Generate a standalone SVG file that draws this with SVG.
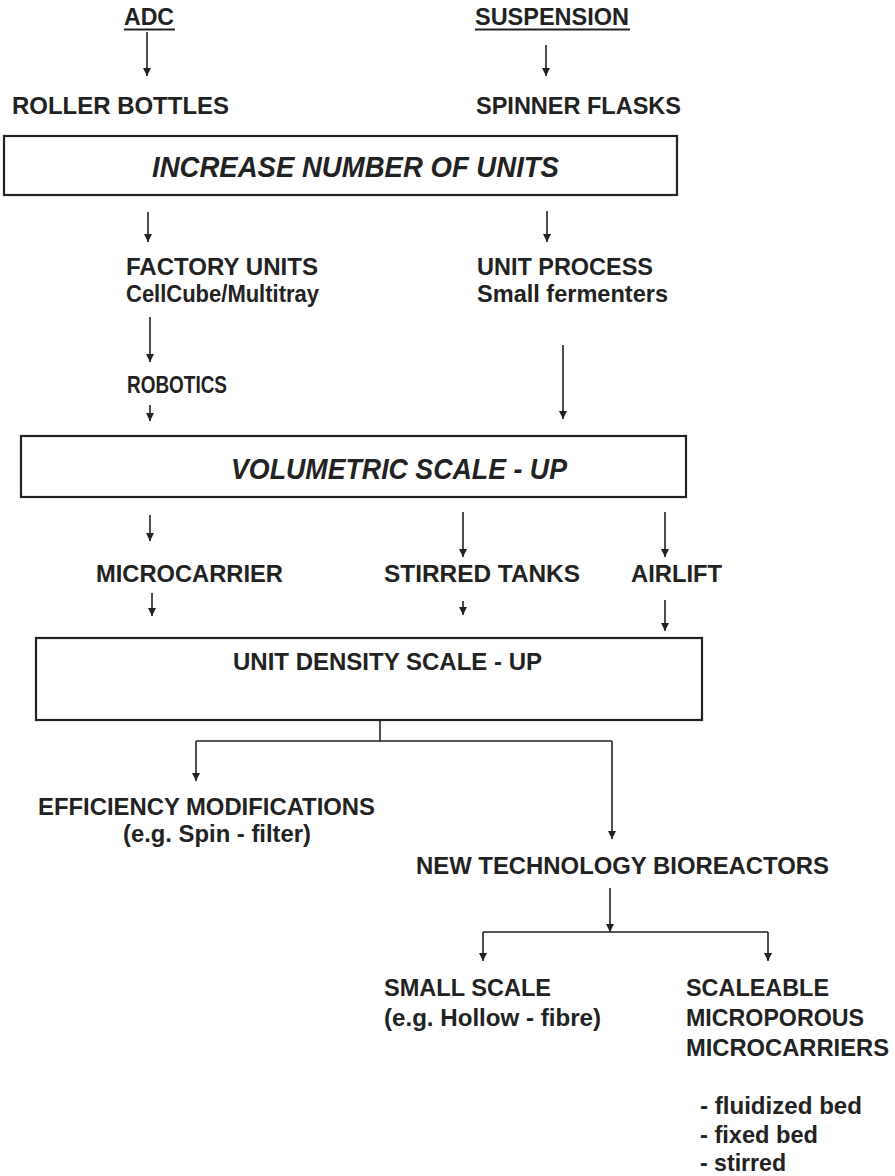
<svg xmlns="http://www.w3.org/2000/svg" width="895" height="1176" viewBox="0 0 895 1176">
<defs>
<marker id="ah" viewBox="0 0 10 10" refX="10" refY="5" markerWidth="8" markerHeight="8" markerUnits="userSpaceOnUse" orient="auto">
<path d="M0,0 L10,5 L0,10 z" fill="#222"/>
</marker>
<style>
.t{font-family:"Liberation Sans",Arial,sans-serif;font-weight:bold;font-size:24px;fill:#222}
.n{font-family:"Liberation Sans",Arial,sans-serif;font-weight:bold;font-size:24.5px;fill:#222}
.i{font-family:"Liberation Sans",Arial,sans-serif;font-weight:bold;font-style:italic;fill:#222}
.box{fill:#fff;stroke:#222;stroke-width:2.2}
.c{fill:none;stroke:#222;stroke-width:1.6}
.a{fill:none;stroke:#222;stroke-width:1.6;marker-end:url(#ah)}
</style>
</defs>
<rect width="895" height="1176" fill="#fff"/>
<g id="connectors">
<line class="a" x1="147" y1="32" x2="147" y2="76"/>
<line class="a" x1="546" y1="45" x2="546" y2="76"/>
<line class="a" x1="148" y1="212" x2="148" y2="242"/>
<line class="a" x1="547" y1="211" x2="547" y2="242"/>
<line class="a" x1="150" y1="317" x2="150" y2="362"/>
<line class="a" x1="150" y1="405" x2="150" y2="421"/>
<line class="a" x1="563" y1="345" x2="563" y2="419"/>
<line class="a" x1="150" y1="515" x2="150" y2="541"/>
<line class="a" x1="463" y1="512" x2="463" y2="557"/>
<line class="a" x1="665" y1="512" x2="665" y2="557"/>
<line class="a" x1="152" y1="593" x2="152" y2="616"/>
<line class="a" x1="463" y1="601" x2="463" y2="615"/>
<line class="a" x1="665" y1="600" x2="665" y2="631"/>
<polyline class="c" points="380,720 380,741 196,741"/>
<line class="c" x1="380" y1="741" x2="612" y2="741"/>
<line class="a" x1="196" y1="741" x2="196" y2="781"/>
<line class="a" x1="612" y1="741" x2="612" y2="839"/>
<line class="a" x1="610" y1="888" x2="610" y2="932"/>
<line class="c" x1="483" y1="932" x2="768" y2="932"/>
<line class="a" x1="483" y1="932" x2="483" y2="961"/>
<line class="a" x1="768" y1="932" x2="768" y2="961"/>
</g>
<g id="adc"><text class="t" x="124" y="25" textLength="50" lengthAdjust="spacingAndGlyphs">ADC</text><line x1="124" y1="29.5" x2="175" y2="29.5" stroke="#222" stroke-width="2"/></g>
<g id="suspension"><text class="t" x="475" y="25" textLength="154" lengthAdjust="spacingAndGlyphs">SUSPENSION</text><line x1="475" y1="29.5" x2="630" y2="29.5" stroke="#222" stroke-width="2"/></g>
<g id="roller"><text class="t" x="12" y="114" textLength="217" lengthAdjust="spacingAndGlyphs">ROLLER BOTTLES</text></g>
<g id="spinner"><text class="t" x="476" y="114" textLength="205" lengthAdjust="spacingAndGlyphs">SPINNER FLASKS</text></g>
<g id="increase"><rect class="box" x="4" y="136" width="673" height="59"/><text class="i" font-size="29" x="152" y="177" textLength="407" lengthAdjust="spacingAndGlyphs">INCREASE NUMBER OF UNITS</text></g>
<g id="factory"><text class="t" x="126" y="275" textLength="192" lengthAdjust="spacingAndGlyphs">FACTORY UNITS</text><text class="t" x="126" y="302" textLength="193" lengthAdjust="spacingAndGlyphs">CellCube/Multitray</text></g>
<g id="unitprocess"><text class="t" x="477" y="275" textLength="176" lengthAdjust="spacingAndGlyphs">UNIT PROCESS</text><text class="t" x="477" y="302" textLength="191" lengthAdjust="spacingAndGlyphs">Small fermenters</text></g>
<g id="robotics"><text class="n" x="127" y="393" textLength="100" lengthAdjust="spacingAndGlyphs">ROBOTICS</text></g>
<g id="volumetric"><rect class="box" x="21" y="436" width="665" height="61"/><text class="i" font-size="30" x="231" y="479" textLength="336" lengthAdjust="spacingAndGlyphs">VOLUMETRIC SCALE - UP</text></g>
<g id="microcarrier"><text class="n" x="96" y="582" textLength="187" lengthAdjust="spacingAndGlyphs">MICROCARRIER</text></g>
<g id="stirred"><text class="n" x="384" y="582" textLength="196" lengthAdjust="spacingAndGlyphs">STIRRED TANKS</text></g>
<g id="airlift"><text class="n" x="631" y="582" textLength="91" lengthAdjust="spacingAndGlyphs">AIRLIFT</text></g>
<g id="density"><rect class="box" x="36" y="638" width="666" height="82"/><text class="n" font-size="25" x="233" y="670" textLength="309" lengthAdjust="spacingAndGlyphs">UNIT DENSITY SCALE - UP</text></g>
<g id="efficiency"><text class="n" x="38" y="815" textLength="337" lengthAdjust="spacingAndGlyphs">EFFICIENCY MODIFICATIONS</text><text class="n" x="123" y="842" textLength="188" lengthAdjust="spacingAndGlyphs">(e.g. Spin - filter)</text></g>
<g id="newtech"><text class="t" x="416" y="874" textLength="413" lengthAdjust="spacingAndGlyphs">NEW TECHNOLOGY BIOREACTORS</text></g>
<g id="smallscale"><text class="t" x="384" y="996" textLength="167" lengthAdjust="spacingAndGlyphs">SMALL SCALE</text><text class="t" x="384" y="1026" textLength="217" lengthAdjust="spacingAndGlyphs">(e.g. Hollow - fibre)</text></g>
<g id="scaleable"><text class="t" x="686" y="996" textLength="143" lengthAdjust="spacingAndGlyphs">SCALEABLE</text><text class="t" x="686" y="1026" textLength="178" lengthAdjust="spacingAndGlyphs">MICROPOROUS</text><text class="t" x="686" y="1056" textLength="203" lengthAdjust="spacingAndGlyphs">MICROCARRIERS</text>
<text class="t" x="700" y="1114" textLength="162" lengthAdjust="spacingAndGlyphs">- fluidized bed</text><text class="t" x="700" y="1143" textLength="118" lengthAdjust="spacingAndGlyphs">- fixed bed</text><text class="t" x="700" y="1171" textLength="86" lengthAdjust="spacingAndGlyphs">- stirred</text></g>
</svg>
